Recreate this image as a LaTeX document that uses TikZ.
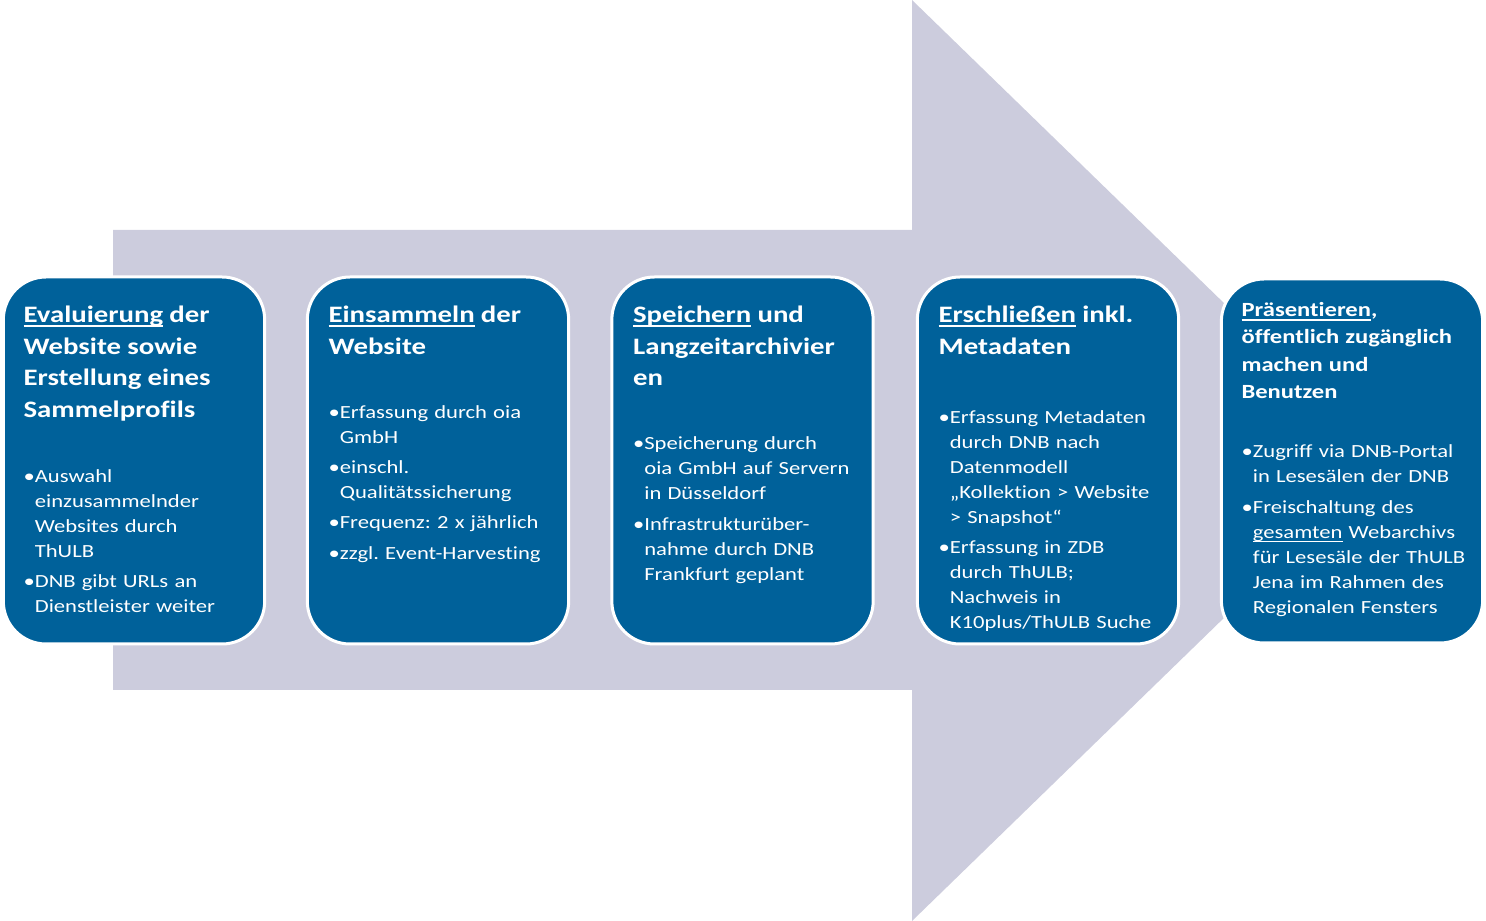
\documentclass[tikz,border=0pt]{standalone}
\usepackage{fontspec}
\setmainfont{Carlito}[FakeStretch=1.22, Ligatures=NoCommon]
\frenchspacing

\definecolor{stageblue}{RGB}{0,97,154}
\definecolor{arrowgray}{RGB}{204,204,221}

\newcommand\nl{\hfil\break}
\newcommand\uline[1]{\leavevmode\setbox2=\hbox{#1}\rlap{\rule[-3.2pt]{\wd2}{1.4pt}}\box2\relax}
\newcommand\itm[1][4pt]{\par\vspace{#1}\setbox0=\hbox{•}\hangindent=\wd0 \hangafter=1 \noindent\box0\relax}
\newcommand\titlefont{\fontsize{17.7}{23.75}\selectfont\bfseries}
\newcommand\bulletfont{\fontsize{13.9}{18.75}\selectfont}

\begin{document}
\begin{tikzpicture}[
    x = 0.75pt,
    y = 0.75pt,
    stage/.style = {
      draw = white,
      line width = 2.25pt,
      fill = stageblue,
      rounded corners = 32pt,
      minimum width = 196pt,
      minimum height = 275.25pt,
      inner sep = 0pt,
      outer sep = 0pt
    },
    stagetext/.style = {
      anchor = north west,
      text = white,
      text width = 190pt,
      align = left,
      inner sep = 0pt,
      font = \bulletfont
    }
  ]
  \useasboundingbox (0,0) rectangle (1486,921);
  \fill[arrowgray] (113,231) -- (912,231) -- (912,0) -- (1386,460.5)
    -- (912,921) -- (912,691) -- (113,691) -- cycle;

  \node[stage] (eval) at (134,460.5) {};
  \node[stage] (collect) at (438,460.5) {};
  \node[stage] (store) at (742.5,460.5) {};
  \node[stage] (index) at (1048,460.5) {};
  \node[stage, minimum height = 273pt] (present) at (1352,460) {};

  \node[stagetext] (evaltext) at ([shift={(20,-23)}]eval.north west) {%
    {\titlefont\noindent\strut\uline{Evaluierung} der\nl Website sowie\nl
      Erstellung eines\nl Sammelprofils\par}
    \itm[30pt]Auswahl\nl einzusammelnder\nl Websites durch\nl ThULB
    \itm DNB gibt URLs an\nl Dienstleister weiter\par};
  \node[stagetext] (collecttext) at ([shift={(21,-23)}]collect.north west) {%
    {\titlefont\noindent\strut\uline{Einsammeln} der\nl Website\par}
    \itm[29.25pt]Erfassung durch oia\nl GmbH
    \itm einschl.\nl Qualitätssicherung
    \itm Frequenz: 2 x jährlich
    \itm zzgl. Event-Harvesting\par};
  \node[stagetext] (storetext) at ([shift={(21,-23)}]store.north west) {%
    {\titlefont\noindent\strut\uline{Speichern} und\nl Langzeitarchivier\nl en\par}
    \itm[29.25pt]Speicherung durch\nl oia GmbH auf Servern\nl in Düsseldorf
    \itm Infrastrukturüber-\nl nahme durch DNB\nl Frankfurt geplant\par};
  \node[stagetext] (indextext) at ([shift={(21,-23)}]index.north west) {%
    {\titlefont\noindent\strut\uline{Erschließen} inkl.\nl Metadaten\par}
    \itm[33pt]Erfassung Metadaten\nl durch DNB nach\nl Datenmodell\nl
      „Kollektion > Website\nl > Snapshot“
    \itm Erfassung in ZDB\nl durch ThULB;\nl Nachweis in\nl K10plus/ThULB Suche\par};
  \node[stagetext] (presenttext) at ([shift={(20,-18)}]present.north west) {%
    {\fontsize{15.1}{20.6}\selectfont\bfseries\noindent\strut\uline{Präsentieren},\nl
      öffentlich zugänglich\nl machen und\nl Benutzen\par}
    \itm[25.5pt]Zugriff via DNB-Portal\nl in Lesesälen der DNB
    \itm Freischaltung des\nl \uline{gesamten} Webarchivs\nl für Lesesäle der ThULB\nl
      Jena im Rahmen des\nl Regionalen Fensters\par};
\end{tikzpicture}
\end{document}
